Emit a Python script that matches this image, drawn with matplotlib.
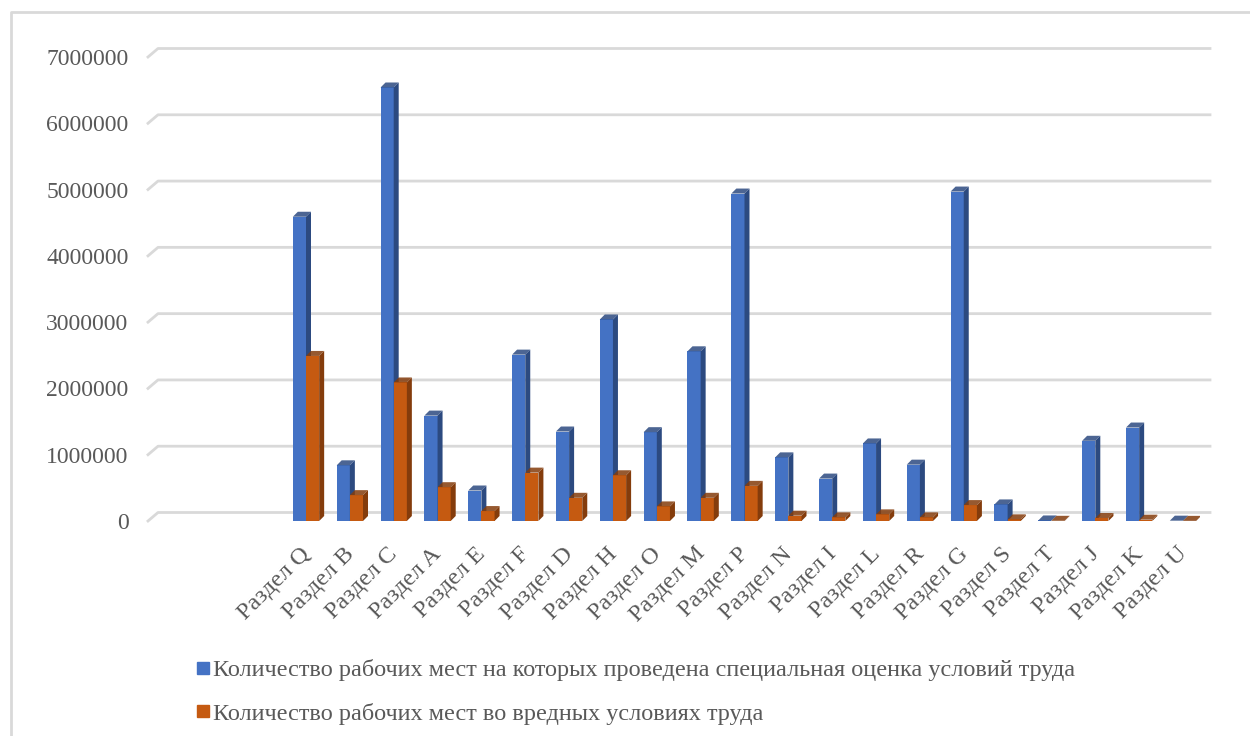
import numpy as np
import matplotlib
matplotlib.use("Agg")
import matplotlib.pyplot as plt
from matplotlib.patches import Polygon, Rectangle
from matplotlib.lines import Line2D

# data
sections = ["Раздел Q", "Раздел B", "Раздел C", "Раздел A", "Раздел E", "Раздел F",
            "Раздел D", "Раздел H", "Раздел O", "Раздел M", "Раздел P", "Раздел N",
            "Раздел I", "Раздел L", "Раздел R", "Раздел G", "Раздел S", "Раздел T",
            "Раздел J", "Раздел K", "Раздел U"]
assessed = [4590000, 840000, 6540000, 1590000, 460000, 2510000, 1350000, 3040000,
            1340000, 2560000, 4940000, 960000, 640000, 1170000, 850000, 4970000,
            250000, 8000, 1210000, 1410000, 5000]
harmful = [2490000, 390000, 2090000, 510000, 150000, 730000, 350000, 690000,
           220000, 350000, 530000, 80000, 55000, 100000, 55000, 240000,
           25000, 3000, 45000, 20000, 2000]
label_assessed = "Количество рабочих мест на которых проведена специальная оценка условий труда"
label_harmful = "Количество рабочих мест во вредных условиях труда"
yticks = [0, 1000000, 2000000, 3000000, 4000000, 5000000, 6000000, 7000000]

blue, blue_dark = "#4472C4", "#2C4A80"
orange, orange_dark = "#C55A11", "#843C0C"
grid_col = "#D9D9D9"
txt_col = "#595959"
serif = ["Liberation Serif", "DejaVu Serif"]

fig = plt.figure(figsize=(12.5, 7.36), dpi=100)
W, H = 1250, 736
# axes placed so that the front plane spans the same pixels as the reference
x_left_px, x_right_px = 148, 1200
y0_px, y7_px = 521, 57
ax = fig.add_axes([x_left_px / W, (H - y0_px) / H,
                   (x_right_px - x_left_px) / W, (y0_px - y7_px) / H])
slot = 43.85
xmin = (x_left_px - 306) / slot
xmax = (x_right_px - 306) / slot
ax.set_xlim(xmin, xmax)
ax.set_ylim(0, 7000000)
px_y = 7000000 / (y0_px - y7_px)

# back-wall gridlines with slanted floor edge
gdx, gdy = 10 / slot, 8.5 * px_y
for v in yticks:
    ax.plot([xmin, xmin + gdx, xmax + 10 / slot], [v, v + gdy, v + gdy],
            color=grid_col, lw=2, clip_on=False, zorder=0)

# pseudo 3D bars
bw = 0.30
ddx, ddy = 5 / slot, 5 * px_y
x = np.arange(len(sections))


def bar3d(x0, h, face, side, z):
    ax.add_patch(Rectangle((x0, 0), bw, h, facecolor=face, edgecolor="none", zorder=z))
    ax.add_patch(Polygon([(x0 + bw, 0), (x0 + bw + ddx, ddy), (x0 + bw + ddx, h + ddy),
                          (x0 + bw, h)], closed=True, facecolor=side, edgecolor="none", zorder=z))
    ax.add_patch(Polygon([(x0, h), (x0 + ddx, h + ddy), (x0 + bw + ddx, h + ddy),
                          (x0 + bw, h)], closed=True, facecolor=side, edgecolor="none",
                         alpha=0.85, zorder=z))


for i in range(len(sections)):
    bar3d(x[i] - bw, assessed[i], blue, blue_dark, 2 + 2 * i)
    bar3d(x[i], harmful[i], orange, orange_dark, 3 + 2 * i)

for s in ax.spines.values():
    s.set_visible(False)
ax.tick_params(length=0)
ax.set_yticks(yticks)
ax.set_yticklabels([str(v) for v in yticks], fontsize=17, color=txt_col, family=serif)
ax.tick_params(axis="y", pad=14)
ax.set_xticks(x - 0.15)
ax.set_xticklabels(sections, rotation=45, ha="right", rotation_mode="anchor",
                   fontsize=17.5, color=txt_col, family=serif)
ax.tick_params(axis="x", pad=16)

# legend
handles = [Line2D([], [], marker="s", ls="none", color=blue, markersize=9),
           Line2D([], [], marker="s", ls="none", color=orange, markersize=9)]
fig.legend(handles, [label_assessed, label_harmful], loc="upper left",
           bbox_to_anchor=(196 / W, 1 - 659 / H), frameon=False,
           handlelength=0.55, handletextpad=0.15,
           labelspacing=0.9, borderaxespad=0, borderpad=0,
           prop={"family": serif, "size": 17.5}, labelcolor=txt_col)

# chart area border (top and left edges visible)
fig.add_artist(Line2D([10.5 / W, 10.5 / W, 1.0], [0.0, 1 - 11.5 / H, 1 - 11.5 / H],
                      transform=fig.transFigure, color=grid_col, lw=2))

fig.savefig("out.png", dpi=100, facecolor="white")
